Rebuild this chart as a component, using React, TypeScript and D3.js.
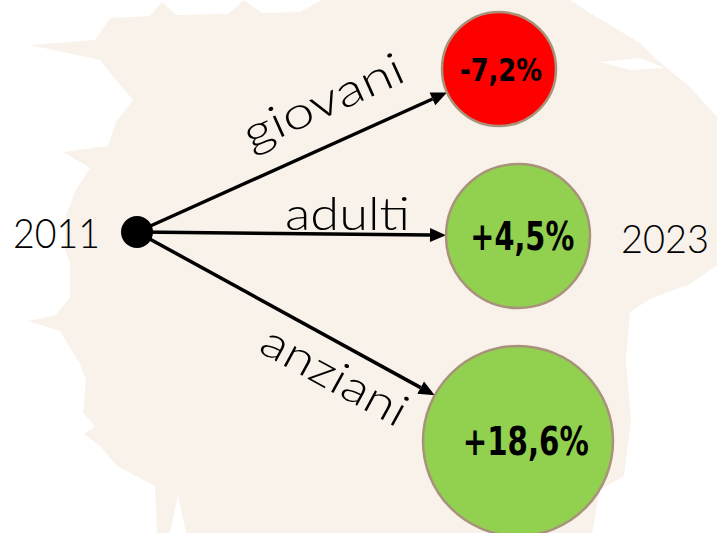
import React from 'react';
import * as d3 from 'd3';

// data
const groups = ['giovani', 'adulti', 'anziani'];
const changes = [-7.2, 4.5, 18.6];
const yearStart = '2011';
const yearEnd = '2023';

const W = 717, H = 533;

// brush stroke behind the chart
const brush: [number, number][] = [
  [30, 45], [95, 40], [110, 18], [150, 16], [162, 2], [176, 15], [228, 14], [244, 0],
  [262, 13], [300, 12], [322, 0], [570, 0], [590, 13], [640, 43], [657, 60], [690, 87],
  [717, 117], [717, 265], [690, 284], [650, 299], [630, 312], [626, 360], [631, 420],
  [624, 476], [600, 490], [592, 533], [157, 533], [155, 486], [117, 466], [100, 446],
  [84, 434], [95, 426], [83, 413], [86, 380], [80, 364], [60, 331], [28, 321], [56, 315],
  [70, 297], [70, 263], [65, 250], [66, 215], [76, 190], [90, 168], [63, 152], [108, 146],
  [116, 122], [133, 100], [116, 80], [100, 60],
];

// thin white streaks cutting into the brush
const streaks: [number, number][][] = [
  [[600, 62], [640, 58], [665, 68], [630, 70]],
  [[640, 330], [700, 345], [717, 352], [717, 358], [660, 352]],
  [[610, 500], [650, 505], [640, 512]],
  [[170, 533], [178, 495], [186, 533]],
];

function fmt(v: number) {
  const s = d3.format('.1f')(Math.abs(v)).replace('.', ',');
  return (v < 0 ? '-' : '+') + s + '%';
}

export default function App() {
  const origin = { x: 137, y: 232 };
  const rScale = d3.scaleLinear().domain([-7.2, 4.5, 18.6]).range([57, 72, 95]);
  const xScale = d3.scaleOrdinal<string, number>().domain(groups).range([499, 518, 518]);
  const gap = 38;
  const top = 12;

  // stack circles vertically
  const nodes: any[] = [];
  let y = top;
  groups.forEach((g, i) => {
    const r = rScale(changes[i]);
    const cy = y + r;
    nodes.push({ g, v: changes[i], r, cx: xScale(g), cy });
    y = cy + r + gap;
  });

  const labelFont = "Lato, 'DejaVu Sans', sans-serif";
  const pctFont = "'Liberation Sans Narrow', 'DejaVu Sans Condensed', 'Liberation Sans', sans-serif";

  const labelPos: any = {
    giovani: { x: 251, y: 151, len: 172 },
    adulti: { x: 285, y: 230, len: 125 },
    anziani: { x: 257, y: 351, len: 160 },
  };

  return (
    <svg width={W} height={H} style={{ position: 'absolute', left: 0, top: 0, background: '#fff' }}>
      <path d={(d3.line()(brush) || '') + 'Z'} fill="#f9f2ea" />
      {streaks.map((s, i) => (
        <path key={i} d={(d3.line()(s) || '') + 'Z'} fill="#fff" />
      ))}
      {nodes.map((n) => {
        const dx = n.cx - origin.x, dy = n.cy - origin.y;
        const len = Math.hypot(dx, dy);
        const ux = dx / len, uy = dy / len;
        const tx = n.cx - ux * n.r, ty = n.cy - uy * n.r;
        const hl = 16, hw = 7;
        const bx = tx - ux * hl, by = ty - uy * hl;
        const head = [
          [tx, ty],
          [bx - uy * hw, by + ux * hw],
          [bx + uy * hw, by - ux * hw],
        ];
        const angle = (Math.atan2(ty - origin.y, tx - origin.x) * 180) / Math.PI;
        const lp = labelPos[n.g];
        const rot = Math.abs(angle) > 3 ? angle : 0;
        return (
          <g key={n.g}>
            <line x1={origin.x} y1={origin.y} x2={bx} y2={by} stroke="#000" strokeWidth={3.5} />
            <polygon points={head.map((p) => p.join(',')).join(' ')} fill="#000" />
            <text
              x={lp.x}
              y={lp.y}
              transform={`rotate(${rot} ${lp.x} ${lp.y})`}
              fontFamily={labelFont}
              fontWeight={300}
              fontSize={45}
              textLength={lp.len}
              lengthAdjust="spacingAndGlyphs"
              fill="#000"
            >
              {n.g}
            </text>
          </g>
        );
      })}
      {nodes.map((n) => {
        const fs = n.r < 60 ? 32 : 39;
        const tw = n.r < 60 ? 82 : n.r < 80 ? 104 : 126;
        const cap = fs * 0.72;
        return (
          <g key={n.g + 'c'}>
            <circle cx={n.cx} cy={n.cy} r={n.r} fill={n.v < 0 ? '#ff0000' : '#92d050'} stroke="#a8937a" strokeWidth={2.5} />
            <text
              x={n.cx + 2 + (n.r - 57) * 0.15}
              y={n.cy + cap / 2}
              textAnchor="middle"
              fontFamily={pctFont}
              fontWeight="bold"
              fontSize={fs}
              textLength={tw}
              lengthAdjust="spacingAndGlyphs"
              fill="#000"
            >
              {fmt(n.v)}
            </text>
          </g>
        );
      })}
      <circle cx={origin.x} cy={origin.y} r={16} fill="#000" />
      <text x={13} y={248} fontFamily={labelFont} fontWeight={300} fontSize={42} textLength={87} lengthAdjust="spacingAndGlyphs">
        {yearStart}
      </text>
      <text x={621} y={253} fontFamily={labelFont} fontWeight={300} fontSize={40} textLength={88} lengthAdjust="spacingAndGlyphs">
        {yearEnd}
      </text>
    </svg>
  );
}
